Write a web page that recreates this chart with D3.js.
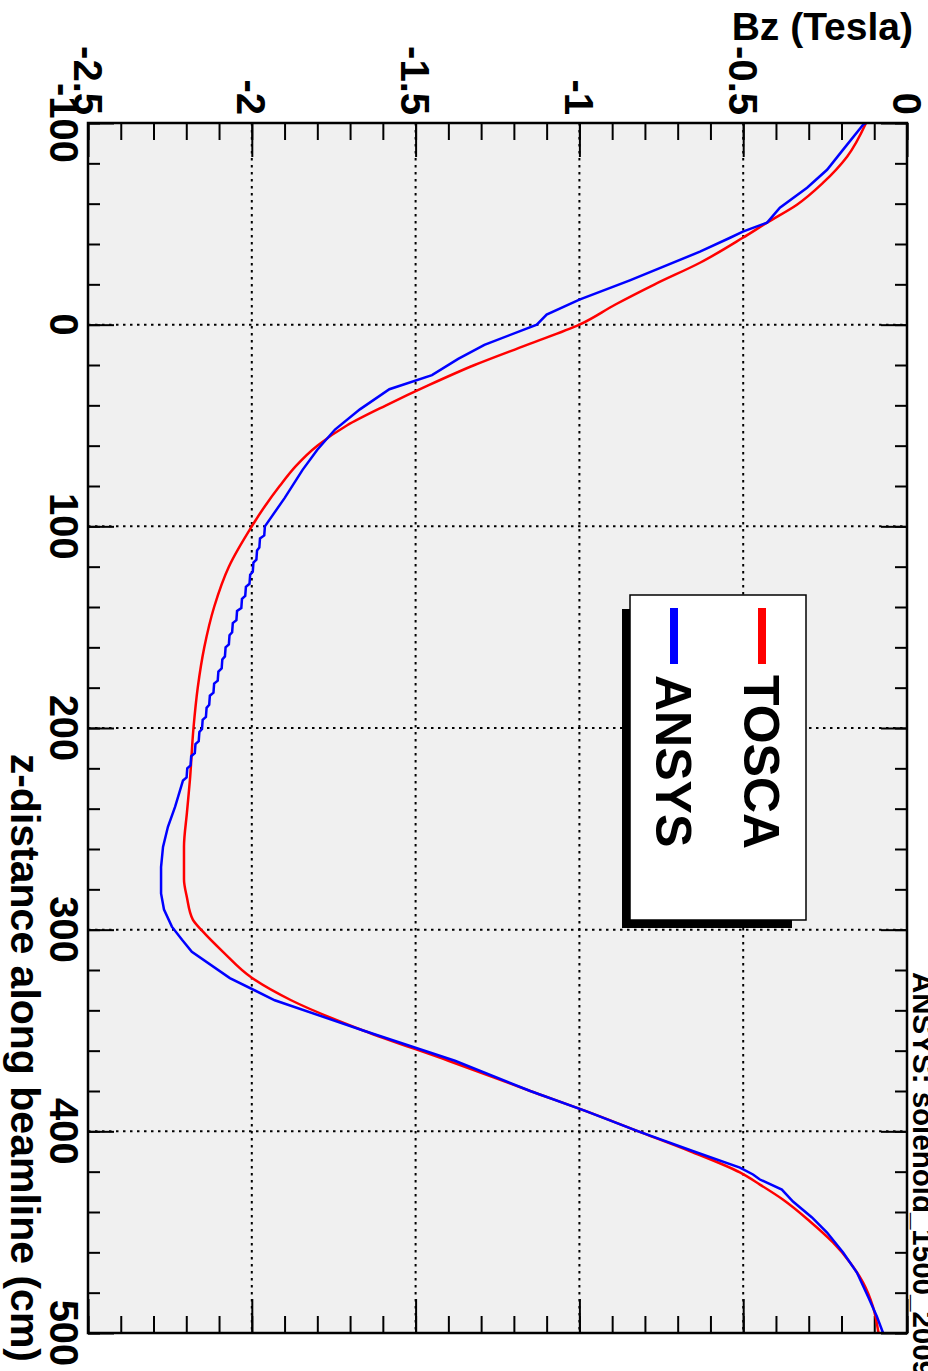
<!DOCTYPE html>
<html><head><meta charset="utf-8">
<script src="https://cdn.jsdelivr.net/npm/d3@7"></script>
<style>html,body{margin:0;padding:0;background:#fff}svg{display:block}</style>
</head><body>
<svg id="c" width="928" height="1371"></svg>
<script>
// ---- data ----
const zTicksMajor = [-100, 0, 100, 200, 300, 400, 500];
const zTickLabels = ["-100", "0", "100", "200", "300", "400", "500"];
const bTicksMajor = [-2.5, -2, -1.5, -1, -0.5, 0];
const bTickLabels = ["-2.5", "-2", "-1.5", "-1", "-0.5", "0"];
const seriesNames = ["TOSCA", "ANSYS"];

const toscaZ = [-100,-83.3,-70.4,-59.5,-50.6,-43.1,-30.7,-20,-10,0,10,20,30,40,50,60,70,80,90,100,120,140,160,180,200,226,242,259,275,284,295,301,311,324,335,350,365,380,390,400,410,420.4,426.4,433.8,444.7,455.1,465,475,486.9,500];
const toscaB = [-0.125,-0.183,-0.256,-0.336,-0.427,-0.501,-0.632,-0.77,-0.89,-1.0,-1.16,-1.32,-1.46,-1.59,-1.71,-1.80,-1.865,-1.915,-1.96,-2.0,-2.07,-2.115,-2.145,-2.165,-2.178,-2.189,-2.198,-2.207,-2.207,-2.198,-2.180,-2.149,-2.088,-1.999,-1.88,-1.66,-1.40,-1.15,-0.98,-0.82,-0.66,-0.510,-0.449,-0.379,-0.296,-0.226,-0.174,-0.134,-0.104,-0.087];

const ansysZ = [-100,-99.2,-86.8,-76.8,-67.9,-58.0,-50.6,-46.1,-43.1,-36.2,-22,-12.4,-5,0,10,17,25,32,42,52,62,72,86,100,
  104.5,106,110.5,112,116.5,118,122.5,124,128.5,130,134.5,136,140.5,142,146.5,148,152.5,154,158.5,160,164.5,166,170.5,172,176.5,178,182.5,184,188.5,190,194.5,196,200.5,202,206.5,208,212.5,214,218.5,220,224.5,226,
  239,249,259,269,282,290,298.5,305,311,324,335,350,365,380,390,400,410,418,421.4,423.9,428.9,434.8,442.7,450.2,460.1,470,481.9,491.8,500];
const ansysB = [-0.125,-0.134,-0.195,-0.244,-0.305,-0.388,-0.427,-0.501,-0.540,-0.632,-0.846,-1.0,-1.10,-1.13,-1.29,-1.37,-1.45,-1.58,-1.67,-1.746,-1.80,-1.845,-1.90,-1.96,
  -1.962,-1.975,-1.977,-1.984,-1.986,-1.995,-1.997,-2.005,-2.007,-2.018,-2.020,-2.030,-2.032,-2.045,-2.047,-2.058,-2.060,-2.068,-2.070,-2.080,-2.082,-2.090,-2.092,-2.102,-2.104,-2.115,-2.117,-2.128,-2.130,-2.138,-2.140,-2.150,-2.152,-2.160,-2.162,-2.172,-2.174,-2.185,-2.187,-2.197,-2.199,-2.210,
  -2.234,-2.256,-2.271,-2.277,-2.277,-2.268,-2.244,-2.213,-2.183,-2.067,-1.93,-1.66,-1.38,-1.15,-0.98,-0.82,-0.65,-0.510,-0.470,-0.449,-0.382,-0.348,-0.290,-0.244,-0.195,-0.153,-0.119,-0.092,-0.073];

// ---- layout ----
const L = 88, R = 907, T = 123, B = 1333;
const svg = d3.select("#c");
const zS = d3.scaleLinear().domain([-100, 500]).range([T, B]);
const bS = d3.scaleLinear().domain([-2.5, 0]).range([L, R]);
const FONT = "'Liberation Sans', Arial, Helvetica, sans-serif";

svg.append("rect").attr("x",0).attr("y",0).attr("width",928).attr("height",1371).attr("fill","#fff");
svg.append("rect").attr("x",L).attr("y",T).attr("width",R-L).attr("height",B-T).attr("fill","#f0f0f0");

// grid
const grid = svg.append("g").attr("stroke","#000").attr("stroke-width",2).attr("stroke-dasharray","2.5,4.5");
zTicksMajor.filter(v => v > -100 && v < 500).forEach(v => {
  grid.append("line").attr("x1",L).attr("x2",R).attr("y1",zS(v)).attr("y2",zS(v));
});
bTicksMajor.filter(v => v > -2.5 && v < 0).forEach(v => {
  grid.append("line").attr("y1",T).attr("y2",B).attr("x1",bS(v)).attr("x2",bS(v));
});

// ticks via d3 axes (labels drawn separately)
const zMinor = d3.range(-100, 501, 20);
const bMinor = d3.range(-25, 1, 1).map(d => d / 10);
function axisG(gen, tx, ty) {
  const g = svg.append("g").attr("transform", `translate(${tx},${ty})`).call(gen);
  g.select(".domain").remove();
  g.selectAll("line").attr("stroke","#000").attr("stroke-width",2);
  g.selectAll("text").remove();
}
axisG(d3.axisLeft(zS).tickValues(zMinor).tickSize(-12).tickFormat(""), L, 0);
axisG(d3.axisLeft(zS).tickValues(zTicksMajor).tickSize(-26).tickFormat(""), L, 0);
axisG(d3.axisRight(zS).tickValues(zMinor).tickSize(-12).tickFormat(""), R, 0);
axisG(d3.axisRight(zS).tickValues(zTicksMajor).tickSize(-26).tickFormat(""), R, 0);
axisG(d3.axisTop(bS).tickValues(bMinor).tickSize(-17).tickFormat(""), 0, T);
axisG(d3.axisTop(bS).tickValues(bTicksMajor).tickSize(-34).tickFormat(""), 0, T);
axisG(d3.axisBottom(bS).tickValues(bMinor).tickSize(-17).tickFormat(""), 0, B);
axisG(d3.axisBottom(bS).tickValues(bTicksMajor).tickSize(-34).tickFormat(""), 0, B);

// curves
const lineR = d3.line().x(d => bS(d[1])).y(d => zS(d[0])).curve(d3.curveMonotoneY);
const lineB = d3.line().x(d => bS(d[1])).y(d => zS(d[0]));
svg.append("path").datum(d3.zip(toscaZ, toscaB)).attr("d", lineR)
  .attr("fill","none").attr("stroke","#ff0000").attr("stroke-width",2.5);
svg.append("path").datum(d3.zip(ansysZ, ansysB)).attr("d", lineB)
  .attr("fill","none").attr("stroke","#0000ff").attr("stroke-width",2.5);

// frame
svg.append("rect").attr("x",L).attr("y",T).attr("width",R-L).attr("height",B-T)
  .attr("fill","none").attr("stroke","#000").attr("stroke-width",2.5);

// tick labels
const lab = svg.append("g").attr("font-family",FONT).attr("font-weight","bold").attr("fill","#000");
bTicksMajor.forEach((v, i) => {
  lab.append("text").attr("transform", `translate(${bS(v)},115) rotate(90)`)
    .attr("text-anchor","end").attr("dy","0.36em").attr("font-size",40).text(bTickLabels[i]);
});
zTicksMajor.forEach((v, i) => {
  lab.append("text").attr("transform", `translate(50,${zS(v)}) rotate(90)`)
    .attr("text-anchor","middle").attr("font-size",40).text(zTickLabels[i]);
});

// axis titles
lab.append("text").attr("x",913).attr("y",40).attr("text-anchor","end").attr("font-size",39).text("Bz (Tesla)");
lab.append("text").attr("transform","translate(11,1362) rotate(90)").attr("text-anchor","end")
  .attr("font-size",41).text("z-distance along beamline (cm)");
// title (cut at the right edge, as in the reference)
lab.append("text").attr("transform","translate(913,972) rotate(90)").attr("text-anchor","start")
  .attr("font-size",29.5).text("ANSYS: solenoid_1500_2009");

// legend
const leg = svg.append("g");
leg.append("rect").attr("x",622).attr("y",609).attr("width",170).attr("height",319).attr("fill","#000");
leg.append("rect").attr("x",630).attr("y",595).attr("width",176).attr("height",325)
  .attr("fill","#fff").attr("stroke","#000").attr("stroke-width",1.5);
const legColors = ["#ff0000", "#0000ff"];
const legX = [762, 674];
seriesNames.forEach((n, i) => {
  leg.append("line").attr("x1",legX[i]).attr("x2",legX[i]).attr("y1",608).attr("y2",664)
    .attr("stroke",legColors[i]).attr("stroke-width",8);
  leg.append("text").attr("transform",`translate(${legX[i]},675) rotate(90)`).attr("dy","0.36em")
    .attr("font-family",FONT).attr("font-weight","bold").attr("font-size",50).text(n);
});
</script>
</body></html>
